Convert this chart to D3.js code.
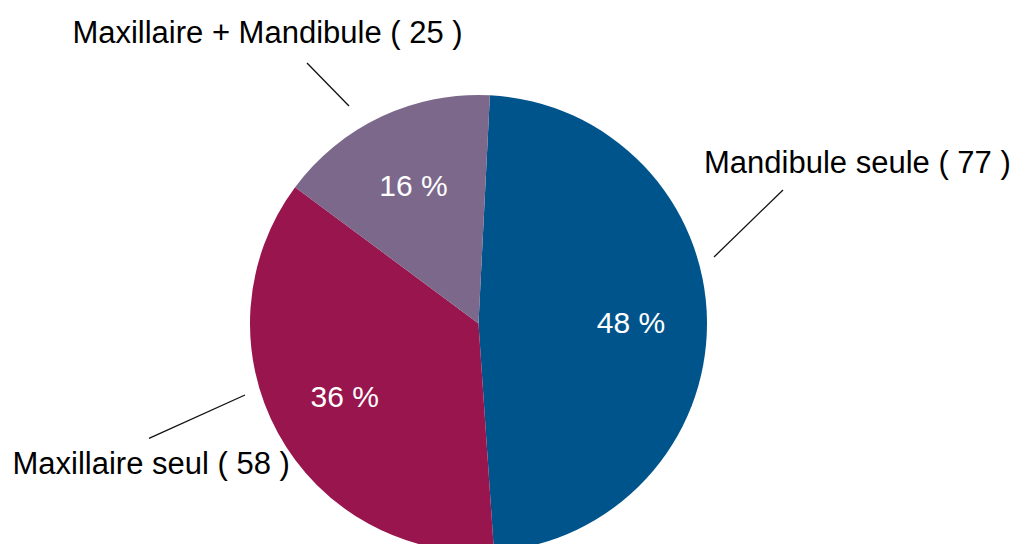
<!DOCTYPE html>
<html>
<head>
<meta charset="utf-8">
<script src="https://cdn.jsdelivr.net/npm/d3@7"></script>
<style>
	body { margin: 0; background: #fff; }
	text { font-family: "Liberation Sans", Arial, Helvetica, sans-serif; }
</style>
</head>
<body>
<div id="chart"></div>
<script>
var categories = ['Mandibule seule', 'Maxillaire seul', 'Maxillaire + Mandibule'];
var counts = [77, 58, 25];
var colors = ['#00548c', '#98154d', '#7b688b'];

// callout placement, pixels relative to the pie centre
var callouts = [
	{ line: [[235.5, -66.5], [304.5, -133.5]], text: [225.5, -150.5], anchor: 'start' },
	{ line: [[-233.5, 71.5], [-329.5, 114.8]], text: [-466, 150], anchor: 'start' },
	{ line: [[-129.5, -217.5], [-171.5, -260.5]], text: [-211, -281], anchor: 'middle' }
];

var width = 1013;
var height = 544;
var cx = 478.5;
var cy = 323.5;
var radius = 228.5;

var svg = d3.select('#chart').append('svg').attr('width', width).attr('height', height);
var g = svg.append('g').attr('transform', 'translate(' + cx + ',' + cy + ')');

var data = categories.map(function (c, i) {
	return { name: c, value: counts[i], color: colors[i] };
});
var total = d3.sum(counts);

var startAngle = 0.05;
var pie = d3.pie().sort(null).value(function (d) { return d.value; })
	.startAngle(startAngle).endAngle(startAngle + 2 * Math.PI);
var arc = d3.arc().innerRadius(0).outerRadius(radius);
var labelArc = d3.arc().innerRadius(radius * 0.667).outerRadius(radius * 0.667);

var arcs = pie(data);

g.selectAll('path.slice')
	.data(arcs)
	.enter()
	.append('path')
	.attr('class', 'slice')
	.attr('d', arc)
	.attr('fill', function (d) { return d.data.color; });

g.selectAll('text.pct')
	.data(arcs)
	.enter()
	.append('text')
	.attr('class', 'pct')
	.attr('transform', function (d) { return 'translate(' + labelArc.centroid(d) + ')'; })
	.attr('text-anchor', 'middle')
	.attr('dy', '0.36em')
	.attr('fill', '#fff')
	.style('font-size', '30px')
	.text(function (d) { return Math.round(d.data.value / total * 100) + ' %'; });

g.selectAll('line.leader')
	.data(callouts)
	.enter()
	.append('line')
	.attr('class', 'leader')
	.attr('x1', function (d) { return d.line[0][0]; })
	.attr('y1', function (d) { return d.line[0][1]; })
	.attr('x2', function (d) { return d.line[1][0]; })
	.attr('y2', function (d) { return d.line[1][1]; })
	.attr('stroke', '#111')
	.attr('stroke-width', 1.3);

g.selectAll('text.name')
	.data(callouts)
	.enter()
	.append('text')
	.attr('class', 'name')
	.attr('x', function (d) { return d.text[0]; })
	.attr('y', function (d) { return d.text[1]; })
	.attr('text-anchor', function (d) { return d.anchor; })
	.attr('fill', '#000')
	.style('font-size', '31px')
	.text(function (d, i) { return data[i].name + ' ( ' + data[i].value + ' )'; });
</script>
</body>
</html>
